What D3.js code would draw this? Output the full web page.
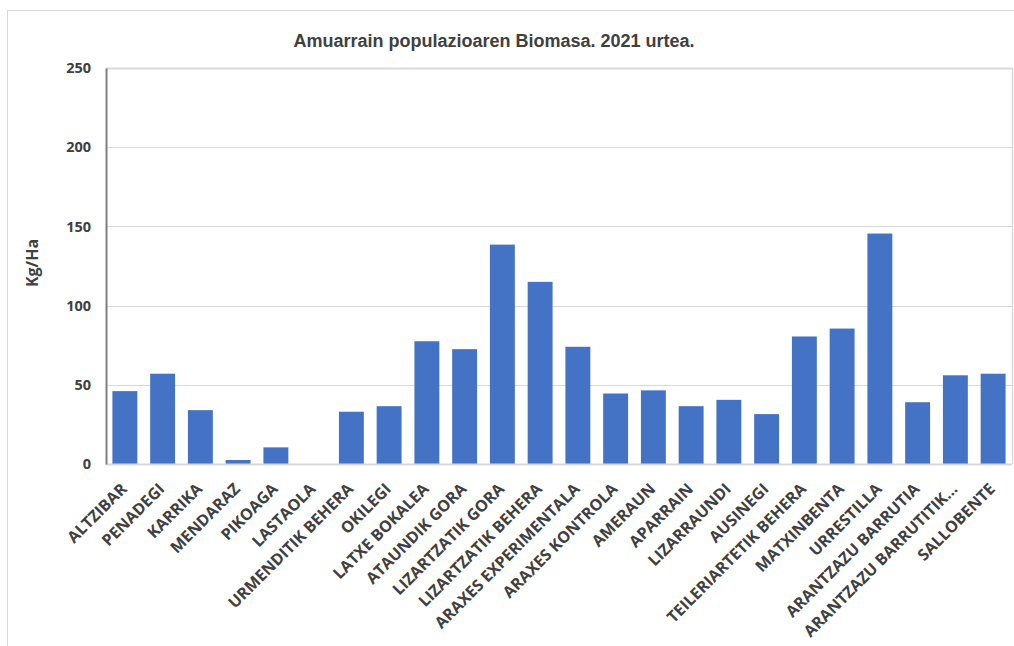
<!DOCTYPE html>
<html>
<head>
<meta charset="utf-8">
<script src="https://cdn.jsdelivr.net/npm/d3@7"></script>
<style>
  html, body { margin: 0; padding: 0; background: #fff; }
  svg { display: block; }
</style>
</head>
<body>
<svg id="chart" width="1014" height="646"></svg>
<script>
const categories = [
  "ALTZIBAR", "PENADEGI", "KARRIKA", "MENDARAZ", "PIKOAGA", "LASTAOLA",
  "URMENDITIK BEHERA", "OKILEGI", "LATXE BOKALEA", "ATAUNDIK GORA",
  "LIZARTZATIK GORA", "LIZARTZATIK BEHERA", "ARAXES EXPERIMENTALA",
  "ARAXES KONTROLA", "AMERAUN", "APARRAIN", "LIZARRAUNDI", "AUSINEGI",
  "TEILERIARTETIK BEHERA", "MATXINBENTA", "URRESTILLA", "ARANTZAZU BARRUTIA",
  "ARANTZAZU BARRUTITIK...", "SALLOBENTE"
];
const biomass = [
  46, 57, 34, 2.5, 10.5, 0,
  33, 36.5, 77.5, 72.5,
  138.5, 115, 74,
  44.5, 46.5, 36.5, 40.5, 31.5,
  80.5, 85.5, 145.5, 39,
  56, 57
];
const yTicks = [0, 50, 100, 150, 200, 250];
const titleText = "Amuarrain populazioaren Biomasa. 2021 urtea.";
const yLabel = "Kg/Ha";

const svg = d3.select("#chart");
const plot = { left: 106, right: 1012, top: 68, bottom: 464 };

// outer chart frame
svg.append("rect")
  .attr("x", 7.5).attr("y", 10.5)
  .attr("width", 1020).attr("height", 650)
  .attr("fill", "#fff").attr("stroke", "#d9d9d9").attr("stroke-width", 1);

const x = d3.scaleBand()
  .domain(categories)
  .range([plot.left, plot.right])
  .paddingInner(0.34)
  .paddingOuter(0.17);

const y = d3.scaleLinear()
  .domain([0, 250])
  .range([plot.bottom, plot.top]);

// gridlines
svg.append("g")
  .selectAll("line")
  .data(yTicks.filter(d => d > 0))
  .join("line")
  .attr("x1", plot.left).attr("x2", plot.right)
  .attr("y1", d => Math.round(y(d)) + 0.5).attr("y2", d => Math.round(y(d)) + 0.5)
  .attr("stroke", "#d9d9d9")
  .attr("stroke-width", d => d === 250 ? 2 : 1);

// right border of plot
svg.append("line")
  .attr("x1", plot.right + 0.5).attr("x2", plot.right + 0.5)
  .attr("y1", plot.top).attr("y2", plot.bottom)
  .attr("stroke", "#d9d9d9").attr("stroke-width", 1.5);

// bars
svg.append("g")
  .selectAll("rect")
  .data(categories.map((c, i) => ({ c, v: biomass[i] })))
  .join("rect")
  .attr("x", d => x(d.c))
  .attr("width", x.bandwidth())
  .attr("y", d => y(d.v))
  .attr("height", d => y(0) - y(d.v))
  .attr("fill", "#4472c4");

// baseline
svg.append("line")
  .attr("x1", plot.left).attr("x2", plot.right)
  .attr("y1", plot.bottom + 0.5).attr("y2", plot.bottom + 0.5)
  .attr("stroke", "#d9d9d9").attr("stroke-width", 2);

// y axis
const yAxis = d3.axisLeft(y).tickValues(yTicks).tickSize(0).tickPadding(15);
const yg = svg.append("g")
  .attr("transform", `translate(${plot.left},0)`)
  .call(yAxis);
yg.select(".domain").attr("stroke", "#7f7f7f").attr("stroke-width", 2);
yg.selectAll("text")
  .attr("font-family", "'Open Sans', sans-serif")
  .attr("font-weight", "bold")
  .attr("font-size", 14.5)
  .attr("fill", "#404040");

// x axis
const xAxis = d3.axisBottom(x).tickSize(0).tickPadding(0);
const xg = svg.append("g")
  .attr("transform", `translate(0,${plot.bottom})`)
  .call(xAxis);
xg.select(".domain").remove();
xg.selectAll("text")
  .attr("font-family", "'Open Sans', sans-serif")
  .attr("font-weight", "bold")
  .attr("font-size", 16)
  .attr("fill", "#404040")
  .attr("text-anchor", "end")
  .attr("x", 0).attr("y", 0).attr("dy", 0)
  .attr("transform", "translate(3,26) rotate(-45)");

// title
svg.append("text")
  .attr("x", 494).attr("y", 47)
  .attr("text-anchor", "middle")
  .attr("font-family", "'Liberation Sans', Arial, sans-serif")
  .attr("font-weight", "bold")
  .attr("font-size", 18)
  .attr("fill", "#404040")
  .text(titleText);

// y label
svg.append("text")
  .attr("transform", "translate(38,263) rotate(-90)")
  .attr("text-anchor", "middle")
  .attr("font-family", "'Open Sans', sans-serif")
  .attr("font-weight", "bold")
  .attr("font-size", 16)
  .attr("fill", "#404040")
  .text(yLabel);
</script>
</body>
</html>
